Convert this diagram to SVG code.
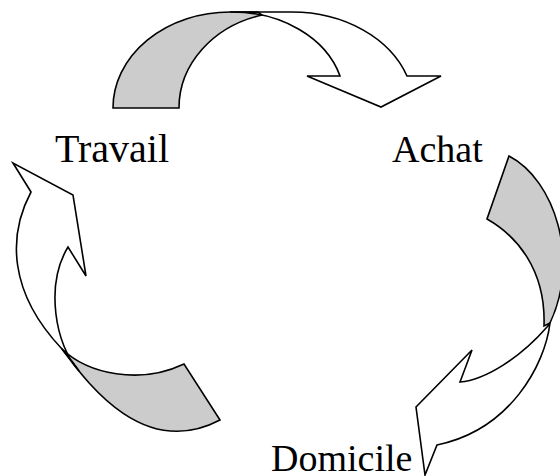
<svg xmlns="http://www.w3.org/2000/svg" xmlns:xlink="http://www.w3.org/1999/xlink" width="560" height="476" viewBox="0 0 560 476">
<style>
.wf{fill:#ffffff;stroke:none}
.gf{fill:#cccccc;stroke:none}
.ol{fill:none;stroke:#000000;stroke-width:1.6;stroke-linejoin:miter}
.lbl{font-family:"Liberation Serif","Times New Roman",serif;font-size:38px;fill:#000000}
</style>
<defs>
<path id="w1" d="M230,12 H292 A122,96 0 0 1 407,76 H441 L381,107 L307,76 H340 A112,88 0 0 0 230,12 Z"/>
<path id="g1" d="M113,108 A117,96 0 0 1 230,12 L258,12 L262,15 A111,96 0 0 0 179,108 Z"/>
<path id="w2" d="M550,323 C545,365 510,430 437,445 L425,475 L416,407 L472,350 L460,382 C485,380 520,358 547,327 Z"/>
<path id="g2" d="M509,156 C555,180 580,260 550,323 L544,326 C546,270 517,236 487,219 Z"/>
<path id="w3" d="M31,192 L13,163 L73,195 L86,276 L68,247 C45,285 55,345 79,371 C73,362 67,355 62,349 C8,292 8,235 31,192 Z"/>
<path id="g3" d="M62,349 C88,374 140,385 184,364 L220,420 C140,462 82,375 62,349 Z"/>
</defs>
<g id="connectors"></g>
<g id="arrow-travail-achat">
<use xlink:href="#w1" class="wf"/>
<use xlink:href="#g1" class="gf"/>
<use xlink:href="#w1" class="ol"/>
<use xlink:href="#g1" class="ol"/>
</g>
<g id="arrow-achat-domicile">
<use xlink:href="#w2" class="wf"/>
<use xlink:href="#g2" class="gf"/>
<use xlink:href="#w2" class="ol"/>
<use xlink:href="#g2" class="ol"/>
</g>
<g id="arrow-domicile-travail">
<use xlink:href="#w3" class="wf"/>
<use xlink:href="#g3" class="gf"/>
<use xlink:href="#w3" class="ol"/>
<use xlink:href="#g3" class="ol"/>
</g>
<g id="node-travail"><text class="lbl" x="55" y="162" style="font-size:40px">Travail</text></g>
<g id="node-achat"><text class="lbl" x="392" y="162">Achat</text></g>
<g id="node-domicile"><text class="lbl" x="271" y="471">Domicile</text></g>
</svg>
